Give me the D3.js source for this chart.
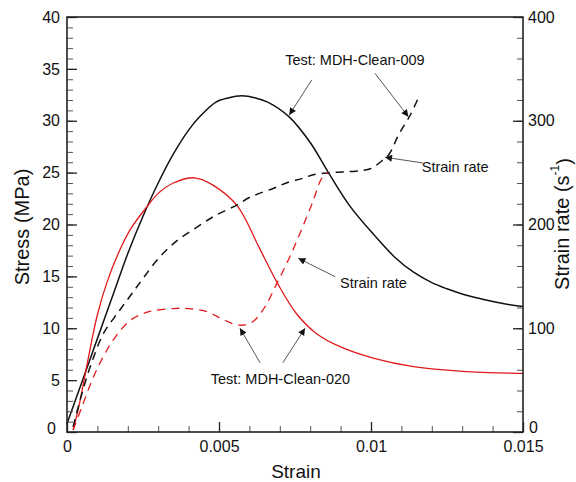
<!DOCTYPE html>
<html>
<head>
<meta charset="utf-8">
<script src="https://cdn.jsdelivr.net/npm/d3@7"></script>
<style>
  html, body { margin: 0; padding: 0; background: #fff; }
  svg text { font-family: "Liberation Sans", Arial, Helvetica, sans-serif; fill: #111; }
</style>
</head>
<body>
<svg id="chart" width="576" height="482"></svg>
<script>
// ---- Data ----
// Test MDH-Clean-009: stress (MPa) vs strain (black solid)
const strain009 = [0, 0.0005, 0.001, 0.0015, 0.002, 0.0025, 0.003, 0.0035, 0.004, 0.0044, 0.0049, 0.0053, 0.00575, 0.0062, 0.0066, 0.0073, 0.008, 0.0086, 0.0093, 0.0101, 0.0108, 0.0114, 0.012, 0.0125, 0.013, 0.0136, 0.0143, 0.015];
const stress009 = [0.8, 4.9, 9.0, 13.1, 17.2, 20.8, 24.0, 26.8, 29.1, 30.5, 31.8, 32.2, 32.4, 32.2, 31.8, 30.4, 27.9, 25.0, 21.8, 19.0, 16.8, 15.4, 14.4, 13.8, 13.3, 12.85, 12.4, 12.1];

// Test MDH-Clean-020: stress (MPa) vs strain (red solid)
const strain020 = [0.0002, 0.0004, 0.0006, 0.0008, 0.001, 0.0013, 0.0017, 0.0021, 0.0026, 0.003, 0.0035, 0.0042, 0.0048, 0.0056, 0.00635, 0.00695, 0.00755, 0.0082, 0.009, 0.0101, 0.0114, 0.013, 0.015];
const stress020 = [0.2, 2.6, 5.6, 8.6, 11.3, 14.3, 17.3, 19.6, 21.6, 23.0, 24.0, 24.5, 23.8, 21.8, 17.6, 14.2, 11.4, 9.5, 8.2, 7.1, 6.3, 5.85, 5.65];

// Test MDH-Clean-009: strain rate (1/s) vs strain (black dashed)
const rateStrain009 = [0.0002, 0.0005, 0.0008, 0.0012, 0.0017, 0.0021, 0.0025, 0.003, 0.0036, 0.0043, 0.0049, 0.0056, 0.006, 0.0068, 0.0073, 0.0077, 0.0081, 0.0087, 0.0093, 0.0097, 0.01, 0.0103, 0.0106, 0.0109, 0.0113, 0.0116];
const rate009 = [5, 38, 66, 95, 116, 132, 148, 167, 184, 198, 209, 219, 226, 235, 241, 244, 248, 250, 251, 252, 254, 260, 268, 286, 306, 325];

// Test MDH-Clean-020: strain rate (1/s) vs strain (red dashed)
const rateStrain020 = [0.0002, 0.0005, 0.00087, 0.0012, 0.0016, 0.0021, 0.0027, 0.0035, 0.004, 0.0046, 0.0051, 0.0055, 0.0058, 0.0061, 0.0065, 0.0069, 0.0073, 0.0077, 0.0081, 0.00837, 0.0086];
const rate020 = [2, 25, 53, 73, 92, 108, 116, 119, 119, 116, 109, 104, 103, 106, 120, 143, 167, 194, 223, 244, 250];

// Axis ticks
const xTicks = [0, 0.005, 0.01, 0.015];
const xTickLabels = ["0", "0.005", "0.01", "0.015"];
const yTicks = [0, 5, 10, 15, 20, 25, 30, 35, 40];
const y2Ticks = [0, 100, 200, 300, 400];

// Annotations in data units (strain, stress)
const annTexts = [
  { text: "Test: MDH-Clean-009", x: 0.00947, y: 35.86, anchor: "middle" },
  { text: "Strain rate", x: 0.01167, y: 25.57, anchor: "start" },
  { text: "Strain rate", x: 0.00898, y: 14.36, anchor: "start" },
  { text: "Test: MDH-Clean-020", x: 0.00702, y: 5.11, anchor: "middle" }
];
const annArrows = [
  { x1: 0.00805, y1: 33.93, x2: 0.00731, y2: 30.55 },
  { x1: 0.01013, y1: 34.57, x2: 0.01123, y2: 30.39 },
  { x1: 0.01171, y1: 25.93, x2: 0.01046, y2: 26.48 },
  { x1: 0.00882, y1: 14.97, x2: 0.00761, y2: 16.74 },
  { x1: 0.00635, y1: 6.68, x2: 0.00569, y2: 10.0 },
  { x1: 0.00710, y1: 6.68, x2: 0.00783, y2: 10.0 }
];

// ---- Layout ----
const svg = d3.select("#chart");
const L = 67, R = 523, T = 17, B = 432;

const x = d3.scaleLinear().domain([0, 0.015]).range([L, R]);
const y = d3.scaleLinear().domain([0, 40]).range([B, T]);
const y2 = d3.scaleLinear().domain([0, 400]).range([B, T]);

const RED = "#e3191c", BLACK = "#111";

// ---- Curves ----
const plot = svg.append("g");
function drawLine(xs, ys, yScale, color, width, dash) {
  const pts = xs.map((v, i) => [v, ys[i]]);
  const line = d3.line().x(d => x(d[0])).y(d => yScale(d[1])).curve(d3.curveCatmullRom.alpha(0.5));
  const p = plot.append("path").datum(pts)
    .attr("d", line).attr("fill", "none")
    .attr("stroke", color).attr("stroke-width", width)
    .attr("stroke-linejoin", "round");
  if (dash) p.attr("stroke-dasharray", dash);
}
drawLine(strain009, stress009, y, BLACK, 1.5, null);
drawLine(strain020, stress020, y, RED, 1.3, null);
drawLine(rateStrain009, rate009, y2, BLACK, 1.5, "8,6");
drawLine(rateStrain020, rate020, y2, RED, 1.3, "8,6");

// ---- Axes ----
const axFont = 16;
function styleAxis(g) {
  g.select(".domain").remove();
  g.selectAll(".tick line").attr("stroke", "#222").attr("stroke-width", 1.3);
  g.selectAll("text").attr("font-size", axFont).attr("fill", "#111")
    .style("font-family", "'Liberation Sans', Arial, sans-serif");
}

// minor ticks
const gxMinor = svg.append("g").attr("transform", `translate(0,${B})`)
  .call(d3.axisBottom(x).tickValues(d3.range(0, 0.0151, 0.001)).tickSize(-6).tickFormat(""));
styleAxis(gxMinor); gxMinor.selectAll(".tick line").attr("stroke", "#555").attr("stroke-width", 1);
const gyMinor = svg.append("g").attr("transform", `translate(${L},0)`)
  .call(d3.axisLeft(y).tickValues(d3.range(0, 40.1, 1)).tickSize(-6).tickFormat(""));
styleAxis(gyMinor); gyMinor.selectAll(".tick line").attr("stroke", "#555").attr("stroke-width", 1);
const gy2Minor = svg.append("g").attr("transform", `translate(${R},0)`)
  .call(d3.axisRight(y2).tickValues(d3.range(0, 401, 20)).tickSize(-6).tickFormat(""));
styleAxis(gy2Minor); gy2Minor.selectAll(".tick line").attr("stroke", "#555").attr("stroke-width", 1);

// major ticks
const gx = svg.append("g").attr("transform", `translate(0,${B})`)
  .call(d3.axisBottom(x).tickValues(xTicks).tickSize(-10).tickPadding(5)
    .tickFormat((d, i) => xTickLabels[i]));
styleAxis(gx);
gx.selectAll("text").attr("dy", "0.95em");

const gy = svg.append("g").attr("transform", `translate(${L},0)`)
  .call(d3.axisLeft(y).tickValues(yTicks).tickSize(-10).tickPadding(7).tickFormat(d3.format("d")));
styleAxis(gy);
gy.selectAll(".tick").filter(d => d === 0).select("text").attr("dy", "0.1em").attr("x", -11);

const gy2 = svg.append("g").attr("transform", `translate(${R},0)`)
  .call(d3.axisRight(y2).tickValues(y2Ticks).tickSize(-10).tickPadding(5).tickFormat(d3.format("d")));
styleAxis(gy2);
gy2.selectAll(".tick").filter(d => d === 0).select("text").attr("dy", "0.0em").attr("x", 6);

// frame
svg.append("rect").attr("x", L).attr("y", T).attr("width", R - L).attr("height", B - T)
  .attr("fill", "none").attr("stroke", "#222").attr("stroke-width", 1.6);

// ---- Axis titles ----
svg.append("text").attr("x", 296).attr("y", 471).attr("text-anchor", "middle")
  .attr("dominant-baseline", "central").attr("font-size", 19).text("Strain");
svg.append("text").attr("transform", "translate(22,227) rotate(-90)").attr("text-anchor", "middle")
  .attr("dominant-baseline", "central").attr("font-size", 20).text("Stress (MPa)");
const rt = svg.append("text").attr("transform", "translate(562,224) rotate(-90)").attr("text-anchor", "middle")
  .attr("dominant-baseline", "central").attr("font-size", 20);
rt.append("tspan").text("Strain rate (s");
rt.append("tspan").attr("font-size", 12).attr("dy", "-0.6em").text("-1");
rt.append("tspan").attr("dy", "0.45em").text(")");

// ---- Annotations ----
const defs = svg.append("defs");
defs.append("marker").attr("id", "ah").attr("viewBox", "0 0 10 10")
  .attr("refX", 10).attr("refY", 5).attr("markerWidth", 11).attr("markerHeight", 7)
  .attr("markerUnits", "userSpaceOnUse").attr("orient", "auto")
  .append("path").attr("d", "M0,0 L10,5 L0,10 Z").attr("fill", "#111");

svg.append("g").selectAll("line").data(annArrows).join("line")
  .attr("x1", d => x(d.x1)).attr("y1", d => y(d.y1))
  .attr("x2", d => x(d.x2)).attr("y2", d => y(d.y2))
  .attr("stroke", "#555").attr("stroke-width", 1)
  .attr("marker-end", "url(#ah)");

svg.append("g").selectAll("text").data(annTexts).join("text")
  .attr("x", d => x(d.x)).attr("y", d => y(d.y))
  .attr("text-anchor", d => d.anchor).attr("dominant-baseline", "central")
  .attr("font-size", 14.5).text(d => d.text);
</script>
</body>
</html>
